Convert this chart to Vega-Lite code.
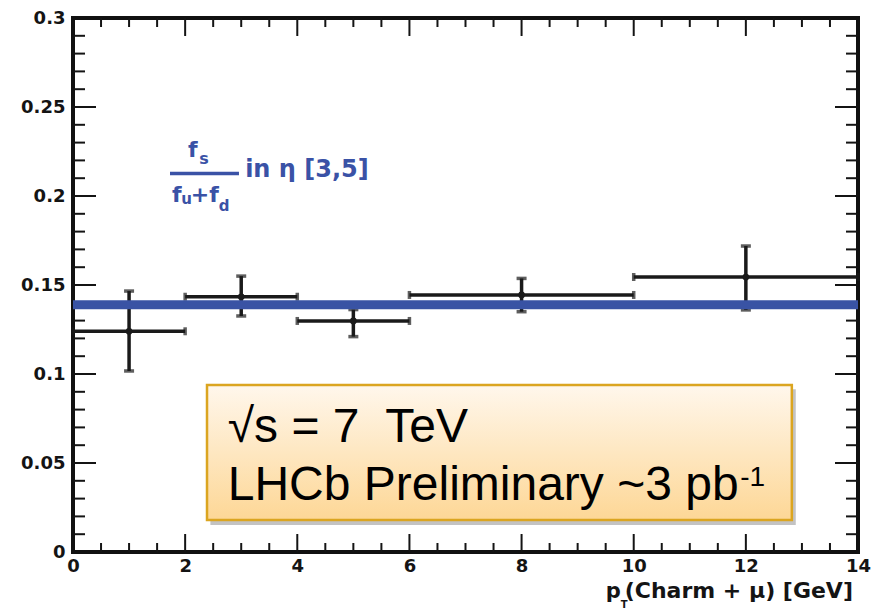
{
  "$schema": "https://vega.github.io/schema/vega-lite/v6.json",
  "width": 785,
  "height": 534,
  "autosize": {"type": "none"},
  "padding": {"left": 73, "top": 18, "right": 17, "bottom": 57},
  "background": "white",
  "config": {
    "view": {"stroke": "#111111", "strokeWidth": 4},
    "axis": {
      "domain": false,
      "grid": false,
      "ticks": false,
      "labelFont": "DejaVu Sans",
      "labelFontWeight": "bold",
      "labelFontSize": 18,
      "labelColor": "#141414",
      "labelFlush": false,
      "labelOverlap": false,
      "labelBound": false
    }
  },
  "data": {
    "values": [
      {"x": 1, "xlo": 0, "xhi": 2, "y": 0.124, "ylo": 0.1017, "yhi": 0.1466},
      {"x": 3, "xlo": 2, "xhi": 4, "y": 0.1434, "ylo": 0.1326, "yhi": 0.155},
      {"x": 5, "xlo": 4, "xhi": 6, "y": 0.1298, "ylo": 0.121, "yhi": 0.1362},
      {"x": 8, "xlo": 6, "xhi": 10, "y": 0.1444, "ylo": 0.135, "yhi": 0.1537},
      {"x": 12, "xlo": 10, "xhi": 14, "y": 0.1545, "ylo": 0.136, "yhi": 0.1719}
    ]
  },
  "layer": [
    {
      "mark": {"type": "rule", "strokeWidth": 3.5, "color": "#1a1a1a"},
      "encoding": {
        "x": {"field": "xlo", "type": "quantitative", "title": null,
          "scale": {"domain": [0, 14], "nice": false, "zero": false},
          "axis": {"orient": "bottom", "values": [0, 2, 4, 6, 8, 10, 12, 14], "format": "~g", "labelPadding": 5}},
        "x2": {"field": "xhi"},
        "y": {"field": "y", "type": "quantitative", "title": null,
          "scale": {"domain": [0, 0.3], "nice": false, "zero": false},
          "axis": {"orient": "left", "values": [0, 0.05, 0.1, 0.15, 0.2, 0.25, 0.3], "format": "~g", "labelPadding": 8}}
      }
    },
    {
      "data": {"values": [{"v": 0.05}, {"v": 0.1}, {"v": 0.15}, {"v": 0.2}, {"v": 0.25}]},
      "mark": {"type": "rule", "strokeWidth": 2, "color": "#141414"},
      "encoding": {
        "x": {"datum": 0, "type": "quantitative"},
        "x2": {"datum": 0.41},
        "y": {"field": "v", "type": "quantitative"}
      }
    },
    {
      "data": {"values": [{"v": 0.05}, {"v": 0.1}, {"v": 0.15}, {"v": 0.2}, {"v": 0.25}]},
      "mark": {"type": "rule", "strokeWidth": 2, "color": "#141414"},
      "encoding": {
        "x": {"datum": 13.59, "type": "quantitative"},
        "x2": {"datum": 14},
        "y": {"field": "v", "type": "quantitative"}
      }
    },
    {
      "data": {"values": [{"v": 0.01}, {"v": 0.02}, {"v": 0.03}, {"v": 0.04}, {"v": 0.06}, {"v": 0.07}, {"v": 0.08}, {"v": 0.09}, {"v": 0.11}, {"v": 0.12}, {"v": 0.13}, {"v": 0.14}, {"v": 0.16}, {"v": 0.17}, {"v": 0.18}, {"v": 0.19}, {"v": 0.21}, {"v": 0.22}, {"v": 0.23}, {"v": 0.24}, {"v": 0.26}, {"v": 0.27}, {"v": 0.28}, {"v": 0.29}]},
      "mark": {"type": "rule", "strokeWidth": 2, "color": "#141414"},
      "encoding": {
        "x": {"datum": 0, "type": "quantitative"},
        "x2": {"datum": 0.214},
        "y": {"field": "v", "type": "quantitative"}
      }
    },
    {
      "data": {"values": [{"v": 0.01}, {"v": 0.02}, {"v": 0.03}, {"v": 0.04}, {"v": 0.06}, {"v": 0.07}, {"v": 0.08}, {"v": 0.09}, {"v": 0.11}, {"v": 0.12}, {"v": 0.13}, {"v": 0.14}, {"v": 0.16}, {"v": 0.17}, {"v": 0.18}, {"v": 0.19}, {"v": 0.21}, {"v": 0.22}, {"v": 0.23}, {"v": 0.24}, {"v": 0.26}, {"v": 0.27}, {"v": 0.28}, {"v": 0.29}]},
      "mark": {"type": "rule", "strokeWidth": 2, "color": "#141414"},
      "encoding": {
        "x": {"datum": 13.786, "type": "quantitative"},
        "x2": {"datum": 14},
        "y": {"field": "v", "type": "quantitative"}
      }
    },
    {
      "data": {"values": [{"v": 2}, {"v": 4}, {"v": 6}, {"v": 8}, {"v": 10}, {"v": 12}]},
      "mark": {"type": "rule", "strokeWidth": 2, "color": "#141414"},
      "encoding": {
        "x": {"field": "v", "type": "quantitative"},
        "y": {"datum": 0, "type": "quantitative"},
        "y2": {"datum": 0.0101}
      }
    },
    {
      "data": {"values": [{"v": 2}, {"v": 4}, {"v": 6}, {"v": 8}, {"v": 10}, {"v": 12}]},
      "mark": {"type": "rule", "strokeWidth": 2, "color": "#141414"},
      "encoding": {
        "x": {"field": "v", "type": "quantitative"},
        "y": {"datum": 0.2899, "type": "quantitative"},
        "y2": {"datum": 0.3}
      }
    },
    {
      "data": {"values": [{"v": 0.5}, {"v": 1}, {"v": 1.5}, {"v": 2.5}, {"v": 3}, {"v": 3.5}, {"v": 4.5}, {"v": 5}, {"v": 5.5}, {"v": 6.5}, {"v": 7}, {"v": 7.5}, {"v": 8.5}, {"v": 9}, {"v": 9.5}, {"v": 10.5}, {"v": 11}, {"v": 11.5}, {"v": 12.5}, {"v": 13}, {"v": 13.5}]},
      "mark": {"type": "rule", "strokeWidth": 2, "color": "#141414"},
      "encoding": {
        "x": {"field": "v", "type": "quantitative"},
        "y": {"datum": 0, "type": "quantitative"},
        "y2": {"datum": 0.00506}
      }
    },
    {
      "data": {"values": [{"v": 0.5}, {"v": 1}, {"v": 1.5}, {"v": 2.5}, {"v": 3}, {"v": 3.5}, {"v": 4.5}, {"v": 5}, {"v": 5.5}, {"v": 6.5}, {"v": 7}, {"v": 7.5}, {"v": 8.5}, {"v": 9}, {"v": 9.5}, {"v": 10.5}, {"v": 11}, {"v": 11.5}, {"v": 12.5}, {"v": 13}, {"v": 13.5}]},
      "mark": {"type": "rule", "strokeWidth": 2, "color": "#141414"},
      "encoding": {
        "x": {"field": "v", "type": "quantitative"},
        "y": {"datum": 0.29494, "type": "quantitative"},
        "y2": {"datum": 0.3}
      }
    },
    {
      "mark": {"type": "rule", "strokeWidth": 3.5, "color": "#1a1a1a"},
      "encoding": {
        "x": {"field": "x", "type": "quantitative"},
        "y": {"field": "ylo", "type": "quantitative"},
        "y2": {"field": "yhi"}
      }
    },
    {
      "mark": {"type": "tick", "orient": "horizontal", "size": 10, "thickness": 3.5, "color": "#1a1a1a"},
      "encoding": {
        "x": {"field": "x", "type": "quantitative"},
        "y": {"field": "yhi", "type": "quantitative"}
      }
    },
    {
      "mark": {"type": "tick", "orient": "horizontal", "size": 10, "thickness": 3.5, "color": "#1a1a1a"},
      "encoding": {
        "x": {"field": "x", "type": "quantitative"},
        "y": {"field": "ylo", "type": "quantitative"}
      }
    },
    {
      "mark": {"type": "tick", "orient": "vertical", "size": 8, "thickness": 3.5, "color": "#1a1a1a"},
      "encoding": {
        "x": {"field": "xlo", "type": "quantitative"},
        "y": {"field": "y", "type": "quantitative"}
      }
    },
    {
      "mark": {"type": "tick", "orient": "vertical", "size": 8, "thickness": 3.5, "color": "#1a1a1a"},
      "encoding": {
        "x": {"field": "xhi", "type": "quantitative"},
        "y": {"field": "y", "type": "quantitative"}
      }
    },
    {
      "mark": {"type": "circle", "size": 45, "opacity": 1, "color": "#1a1a1a"},
      "encoding": {
        "x": {"field": "x", "type": "quantitative"},
        "y": {"field": "y", "type": "quantitative"}
      }
    },
    {
      "data": {"values": [{"fit": 0.1389}]},
      "mark": {"type": "rule", "color": "#3953a4", "strokeWidth": 9},
      "encoding": {
        "y": {"field": "fit", "type": "quantitative"}
      }
    },
    {
      "data": {"values": [{}]},
      "mark": {"type": "rect", "fill": "#7a7a7a", "opacity": 0.45},
      "encoding": {
        "x": {"datum": 2.45, "type": "quantitative"},
        "x2": {"datum": 12.89},
        "y": {"datum": 0.0915, "type": "quantitative"},
        "y2": {"datum": 0.0152}
      }
    },
    {
      "data": {"values": [{}]},
      "mark": {"type": "rect", "stroke": "#dba520", "strokeWidth": 2.5,
        "fill": {"gradient": "linear", "x1": 0, "y1": 0, "x2": 0, "y2": 1,
          "stops": [{"offset": 0, "color": "#fff7ec"}, {"offset": 1, "color": "#fdd796"}]}},
      "encoding": {
        "x": {"datum": 2.39, "type": "quantitative"},
        "x2": {"datum": 12.82},
        "y": {"datum": 0.0938, "type": "quantitative"},
        "y2": {"datum": 0.018}
      }
    },
    {
      "data": {"values": [{}]},
      "mark": {"type": "text", "text": "√s = 7\u00a0 TeV", "font": "Liberation Sans", "fontSize": 48, "align": "left", "baseline": "alphabetic", "color": "#000000"},
      "encoding": {
        "x": {"datum": 2.76, "type": "quantitative"},
        "y": {"datum": 0.0618, "type": "quantitative"}
      }
    },
    {
      "data": {"values": [{}]},
      "mark": {"type": "text", "text": "LHCb Preliminary ~3 pb", "font": "Liberation Sans", "fontSize": 48, "align": "left", "baseline": "alphabetic", "color": "#000000"},
      "encoding": {
        "x": {"datum": 2.76, "type": "quantitative"},
        "y": {"datum": 0.0292, "type": "quantitative"}
      }
    },
    {
      "data": {"values": [{}]},
      "mark": {"type": "text", "text": "-1", "font": "Liberation Sans", "fontSize": 28, "align": "left", "baseline": "alphabetic", "color": "#000000"},
      "encoding": {
        "x": {"datum": 11.9, "type": "quantitative"},
        "y": {"datum": 0.0371, "type": "quantitative"}
      }
    },
    {
      "data": {"values": [{}]},
      "mark": {"type": "text", "text": "f", "font": "DejaVu Sans", "fontWeight": "bold", "fontSize": 22, "align": "left", "baseline": "alphabetic", "color": "#3a52a6"},
      "encoding": {
        "x": {"datum": 2.05, "type": "quantitative"},
        "y": {"datum": 0.2219, "type": "quantitative"}
      }
    },
    {
      "data": {"values": [{}]},
      "mark": {"type": "text", "text": "s", "font": "DejaVu Sans", "fontWeight": "bold", "fontSize": 16, "align": "left", "baseline": "alphabetic", "color": "#3a52a6"},
      "encoding": {
        "x": {"datum": 2.25, "type": "quantitative"},
        "y": {"datum": 0.218, "type": "quantitative"}
      }
    },
    {
      "data": {"values": [{}]},
      "mark": {"type": "rule", "color": "#3a52a6", "strokeWidth": 3.5},
      "encoding": {
        "x": {"datum": 1.73, "type": "quantitative"},
        "x2": {"datum": 2.96},
        "y": {"datum": 0.2127, "type": "quantitative"}
      }
    },
    {
      "data": {"values": [{}]},
      "mark": {"type": "text", "text": "f", "font": "DejaVu Sans", "fontWeight": "bold", "fontSize": 22, "align": "left", "baseline": "alphabetic", "color": "#3a52a6"},
      "encoding": {
        "x": {"datum": 1.766, "type": "quantitative"},
        "y": {"datum": 0.1966, "type": "quantitative"}
      }
    },
    {
      "data": {"values": [{}]},
      "mark": {"type": "text", "text": "u", "font": "DejaVu Sans", "fontWeight": "bold", "fontSize": 15, "align": "left", "baseline": "alphabetic", "color": "#3a52a6"},
      "encoding": {
        "x": {"datum": 1.93, "type": "quantitative"},
        "y": {"datum": 0.1955, "type": "quantitative"}
      }
    },
    {
      "data": {"values": [{}]},
      "mark": {"type": "text", "text": "+f", "font": "DejaVu Sans", "fontWeight": "bold", "fontSize": 22, "align": "left", "baseline": "alphabetic", "color": "#3a52a6"},
      "encoding": {
        "x": {"datum": 2.1, "type": "quantitative"},
        "y": {"datum": 0.1966, "type": "quantitative"}
      }
    },
    {
      "data": {"values": [{}]},
      "mark": {"type": "text", "text": "d", "font": "DejaVu Sans", "fontWeight": "bold", "fontSize": 15, "align": "left", "baseline": "alphabetic", "color": "#3a52a6"},
      "encoding": {
        "x": {"datum": 2.6, "type": "quantitative"},
        "y": {"datum": 0.1916, "type": "quantitative"}
      }
    },
    {
      "data": {"values": [{}]},
      "mark": {"type": "text", "text": "in η [3,5]", "font": "DejaVu Sans", "fontWeight": "bold", "fontSize": 24, "align": "left", "baseline": "alphabetic", "color": "#3a52a6"},
      "encoding": {
        "x": {"datum": 3.07, "type": "quantitative"},
        "y": {"datum": 0.2107, "type": "quantitative"}
      }
    },
    {
      "data": {"values": [{}]},
      "mark": {"type": "text", "text": "p", "font": "DejaVu Sans", "fontWeight": "bold", "fontSize": 21, "align": "left", "baseline": "alphabetic", "color": "#141414"},
      "encoding": {
        "x": {"datum": 9.5, "type": "quantitative"},
        "y": {"datum": -0.0258, "type": "quantitative"}
      }
    },
    {
      "data": {"values": [{}]},
      "mark": {"type": "text", "text": "T", "font": "DejaVu Sans", "fontWeight": "bold", "fontSize": 10, "align": "left", "baseline": "alphabetic", "color": "#141414"},
      "encoding": {
        "x": {"datum": 9.77, "type": "quantitative"},
        "y": {"datum": -0.0312, "type": "quantitative"}
      }
    },
    {
      "data": {"values": [{}]},
      "mark": {"type": "text", "text": "(Charm + μ) [GeV]", "font": "DejaVu Sans", "fontWeight": "bold", "fontSize": 22, "align": "right", "baseline": "alphabetic", "color": "#141414"},
      "encoding": {
        "x": {"datum": 13.91, "type": "quantitative"},
        "y": {"datum": -0.0258, "type": "quantitative"}
      }
    }
  ]
}
